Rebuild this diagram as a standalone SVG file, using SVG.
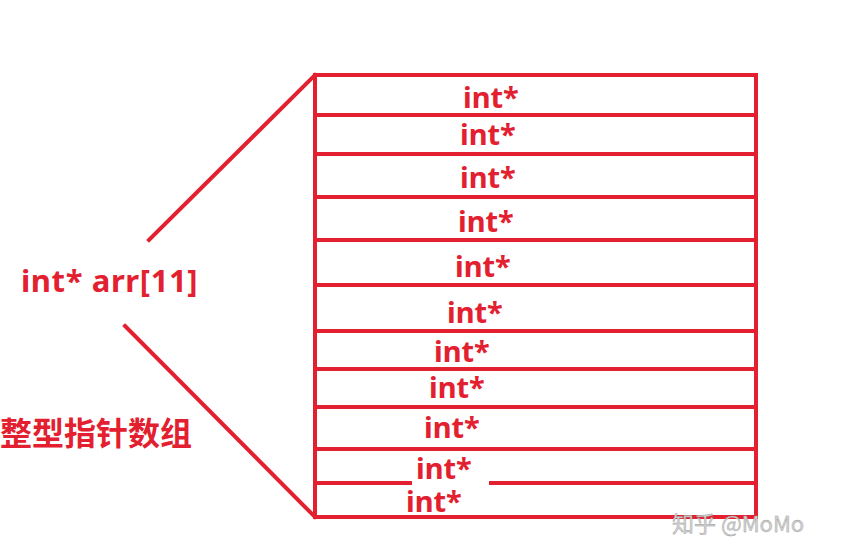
<svg xmlns="http://www.w3.org/2000/svg" width="845" height="558" viewBox="0 0 845 558">
<style>
.ln{stroke:#e3202f;stroke-width:4;fill:none;stroke-linecap:square}
.t{font-family:"Noto Sans","Liberation Sans",sans-serif;font-weight:bold;font-size:29px;fill:#e3202f}
.lab{font-size:31px;letter-spacing:0.6px}
.cjk{font-family:"Noto Sans CJK SC",sans-serif;font-weight:bold;font-size:32px;fill:#e3202f}
.wm{font-family:"Noto Sans CJK SC","Noto Sans",sans-serif;font-size:22px;fill:#d4d4d4;stroke:#9a9a9a;stroke-width:0.4}
</style>
<rect width="845" height="558" fill="#fff"/>
<g id="connectors">
<line class="ln" x1="149" y1="240" x2="315" y2="75"/>
<line class="ln" x1="125" y1="326" x2="315" y2="517"/>
</g>
<g id="array">
<rect class="ln" x="315" y="75" width="441" height="442"/>
<line class="ln" x1="315" y1="115" x2="756" y2="115"/>
<line class="ln" x1="315" y1="154" x2="756" y2="154"/>
<line class="ln" x1="315" y1="197" x2="756" y2="197"/>
<line class="ln" x1="315" y1="240" x2="756" y2="240"/>
<line class="ln" x1="315" y1="285" x2="756" y2="285"/>
<line class="ln" x1="315" y1="331" x2="756" y2="331"/>
<line class="ln" x1="315" y1="369" x2="756" y2="369"/>
<line class="ln" x1="315" y1="407" x2="756" y2="407"/>
<line class="ln" x1="315" y1="449" x2="756" y2="449"/>
<line class="ln" x1="315" y1="483" x2="756" y2="483"/>
<rect x="412" y="480" width="77" height="6" fill="#fff"/>
<text class="t" x="463" y="108">int*</text>
<text class="t" x="460" y="145">int*</text>
<text class="t" x="460" y="188">int*</text>
<text class="t" x="458" y="232">int*</text>
<text class="t" x="455" y="277">int*</text>
<text class="t" x="447" y="323">int*</text>
<text class="t" x="434" y="362">int*</text>
<text class="t" x="429" y="398">int*</text>
<text class="t" x="424" y="438">int*</text>
<text class="t" x="416" y="479">int*</text>
<text class="t" x="406" y="512">int*</text>
</g>
<g id="label">
<text class="t lab" x="21" y="292">int* arr[11]</text>
<text class="cjk" x="0" y="445">整型指针数组</text>
</g>
<text class="wm" x="672" y="532">知乎 @MoMo</text>
</svg>
